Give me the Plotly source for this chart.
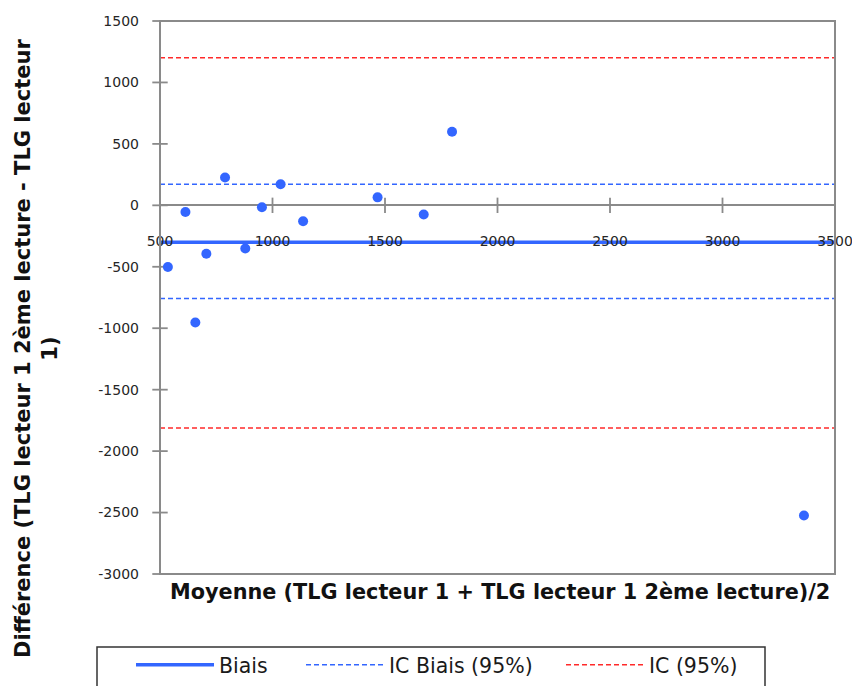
import plotly.graph_objects as go

# ---- data ----
moyenne = [535, 613, 657, 706, 789, 879, 953, 1036, 1136, 1467, 1672, 1798, 3362]
difference = [-502, -54, -953, -394, 227, -351, -16, 172, -130, 65, -75, 599, -2524]

line_x = [500, 3500]
biais = -300
ic_biais_haut = 172
ic_biais_bas = -759
ic_haut = 1201
ic_bas = -1811

x_ticks = [500, 1000, 1500, 2000, 2500, 3000, 3500]
y_ticks = [1500, 1000, 500, 0, -500, -1000, -1500, -2000, -2500, -3000]
y_tick_text = ["1500", "1000", "500", "0", "-500", "-1000", "-1500", "-2000", "-2500", "-3000"]

BLUE = "#3366FF"
RED = "#FF2A2A"
AXIS = "#8A8A8A"
TICKFONT = dict(family="DejaVu Sans, sans-serif", size=14, color="#262626")
LEGFONT = dict(family="DejaVu Sans, sans-serif", size=20.5, color="#1a1a1a")
TITLEFONT = dict(family="DejaVu Sans, sans-serif", size=20.8, color="#111111", weight="bold")

OFF = 8  # page body margin

fig = go.Figure()

# limits lines
fig.add_trace(go.Scatter(x=line_x, y=[biais] * 2, mode="lines", name="Biais", legend="legend",
                         line=dict(color=BLUE, width=3.5), hoverinfo="skip"))
fig.add_trace(go.Scatter(x=line_x, y=[ic_biais_haut] * 2, mode="lines", name="IC Biais (95%)",
                         legend="legend2", legendgroup="icb",
                         line=dict(color=BLUE, width=1.5, dash="5px,3px")))
fig.add_trace(go.Scatter(x=line_x, y=[ic_biais_bas] * 2, mode="lines", showlegend=False,
                         legend="legend2", legendgroup="icb",
                         line=dict(color=BLUE, width=1.5, dash="5px,3px")))
fig.add_trace(go.Scatter(x=line_x, y=[ic_haut] * 2, mode="lines", name="IC (95%)",
                         legend="legend3", legendgroup="ic",
                         line=dict(color=RED, width=1.5, dash="5px,3px")))
fig.add_trace(go.Scatter(x=line_x, y=[ic_bas] * 2, mode="lines", showlegend=False,
                         legend="legend3", legendgroup="ic",
                         line=dict(color=RED, width=1.5, dash="5px,3px")))

# tick cross marks
fig.add_trace(go.Scatter(x=x_ticks, y=[0] * len(x_ticks), mode="markers", showlegend=False,
                         hoverinfo="skip", cliponaxis=False,
                         marker=dict(symbol="line-ns", size=11, line=dict(color=AXIS, width=1.8))))
fig.add_trace(go.Scatter(x=[500] * len(y_ticks), y=y_ticks, mode="markers", showlegend=False,
                         hoverinfo="skip", cliponaxis=False,
                         marker=dict(symbol="line-ew", size=11, line=dict(color=AXIS, width=1.8))))

# points
fig.add_trace(go.Scatter(x=moyenne, y=difference, mode="markers", showlegend=False,
                         marker=dict(color=BLUE, size=10), cliponaxis=False))

leg_common = dict(orientation="h", xref="container", yref="container", xanchor="left",
                  yanchor="middle", y=1 - (665 - OFF) / 686, bgcolor="rgba(0,0,0,0)",
                  borderwidth=0, font=LEGFONT, itemwidth=78)

fig.update_layout(
    width=860, height=686,
    margin=dict(l=160 - OFF, r=25 + OFF, t=21 - OFF, b=112 + OFF),
    paper_bgcolor="white", plot_bgcolor="white",
    showlegend=True,
    legend=dict(leg_common, x=(131 - OFF) / 860),
    legend2=dict(leg_common, x=(301 - OFF) / 860),
    legend3=dict(leg_common, x=(561 - OFF) / 860),
    xaxis=dict(range=[500, 3500], tickvals=x_ticks, ticks="", showline=False, showgrid=False,
               zeroline=False, anchor="free", position=0.62, tickfont=TICKFONT,
               automargin=False),
    yaxis=dict(range=[-3000, 1500], tickvals=y_ticks, ticktext=y_tick_text, ticks="",
               showline=False, showgrid=False,
               zeroline=True, zerolinecolor=AXIS, zerolinewidth=1.8,
               ticklabelstandoff=20, tickfont=TICKFONT, automargin=False),
    shapes=[
        dict(type="rect", xref="paper", yref="paper", x0=0, x1=1, y0=0, y1=1,
             line=dict(color=AXIS, width=2), layer="above"),
        dict(type="rect", xref="paper", yref="paper", x0=(97 - 160) / 675, x1=(765 - 160) / 675,
             y0=-0.35, y1=(574 - 647) / 553, line=dict(color="#333333", width=1.5)),
    ],
    annotations=[
        dict(text="Moyenne (TLG lecteur 1 + TLG lecteur 1 2ème lecture)/2",
             xref="paper", yref="paper", x=(500 - 160) / 675, y=(574 - 592) / 553, showarrow=False,
             xanchor="center", yanchor="middle", font=TITLEFONT),
        dict(text="Différence (TLG lecteur 1 2ème lecture - TLG lecteur<br>1)",
             xref="paper", yref="paper", x=(36 - 160) / 675, y=(574 - 349) / 553,
             showarrow=False, textangle=-90, xanchor="center", yanchor="middle",
             align="center", font=dict(TITLEFONT, size=21)),
    ],
)

fig.write_html("out.html")
